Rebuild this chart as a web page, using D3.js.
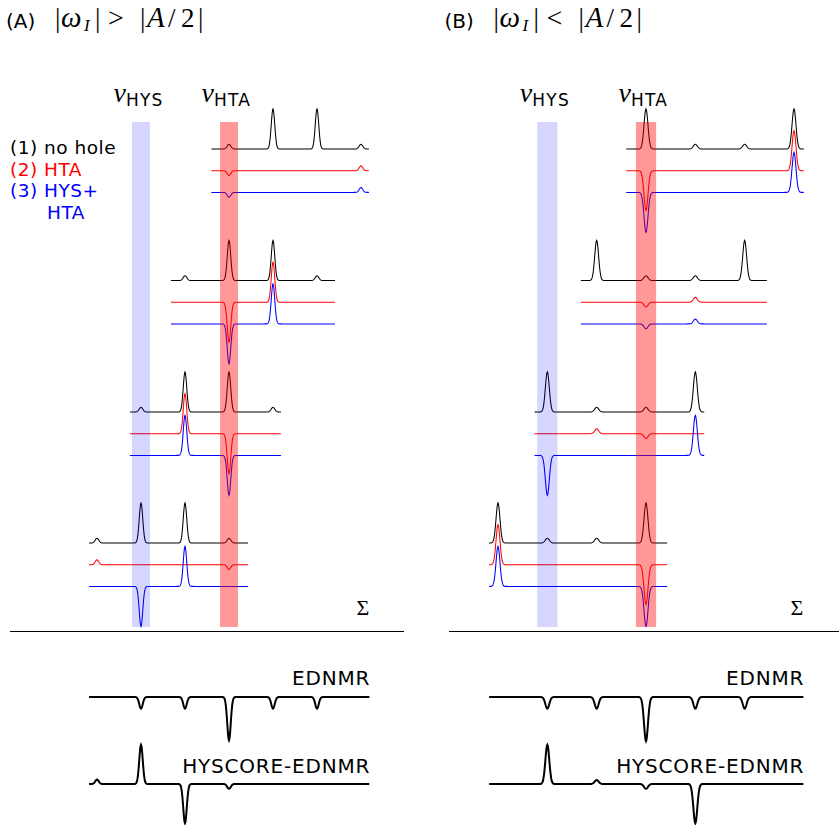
<!DOCTYPE html>
<html lang="en">
<head>
<meta charset="utf-8">
<title>EDNMR / HYSCORE-EDNMR schematic</title>
<style>
body { margin: 0; background: #fff; }
.sans { font-family: "DejaVu Sans", sans-serif; }
.serif { font-family: "Liberation Serif", "DejaVu Serif", serif; }
.trace { fill: none; stroke-width: 1.05; }
.sum { fill: none; stroke: #000; stroke-width: 2; }
</style>
</head>
<body>
<div id="chart"></div>
<script src="https://d3js.org/d3.v7.min.js"></script>
<script>
// peak positions are in "line index" units (0..6), amplitude 1 = full peak
var rowSpanA = [[2.6, 6.18], [1.68, 5.41], [0.75, 4.18], [-0.18, 3.43]];
var rowSpanB = [[2.6, 6.2], [1.68, 5.45], [0.74, 4.18], [-0.18, 3.43]];

// (1) no hole, (2) HTA, (3) HYS+HTA  -- one list of [position, amplitude] per row
var noHoleA = [[[3, .12], [4, 1], [5, 1], [6, .12]],
               [[2, .12], [3, 1], [4, 1], [5, .12]],
               [[1, .12], [2, 1], [3, 1], [4, .12]],
               [[0, .12], [1, 1], [2, 1], [3, .12]]];
var htaA    = [[[3, -.12], [6, .12]],
               [[3, -1], [4, 1]],
               [[2, 1], [3, -1]],
               [[0, .12], [3, -.12]]];
var hysHtaA = [[[3, -.12], [6, .12]],
               [[3, -1], [4, 1]],
               [[2, 1], [3, -1]],
               [[1, -1], [2, 1]]];

var noHoleB = [[[3, 1], [4, .12], [5, .12], [6, 1]],
               [[2, 1], [3, .12], [4, .12], [5, 1]],
               [[1, 1], [2, .12], [3, .12], [4, 1]],
               [[0, 1], [1, .12], [2, .12], [3, 1]]];
var htaB    = [[[3, -1], [6, 1]],
               [[3, -.12], [4, .12]],
               [[2, .12], [3, -.12]],
               [[0, 1], [3, -1]]];
var hysHtaB = [[[3, -1], [6, 1]],
               [[3, -.12], [4, .12]],
               [[1, -1], [4, 1]],
               [[0, 1], [3, -1]]];

// summed spectra
var sumSpan = [-0.18, 6.19];
var ednmrA   = [[1, -.29], [2, -.29], [3, -1.08], [4, -.29], [5, -.29]];
var hyscoreA = [[0, .11], [1, .98], [2, -.98], [3, -.12]];
var ednmrB   = [[1, -.29], [2, -.29], [3, -1.1], [4, -.29], [5, -.29]];
var hyscoreB = [[1, .98], [2, .1], [3, -.12], [4, -.98]];

var hysPos = 1, htaPos = 3, bandHalf = 0.205;
var legend = [['(1) no hole', '#000'], ['(2) HTA', 'red'], ['(3) HYS+', 'blue']];

var SIG = 0.04;
var width = 839, height = 825;
var svg = d3.select('#chart').append('svg')
  .attr('width', width).attr('height', height);

var amp = d3.scaleLinear().domain([0, 1]).range([0, -40]);
var rowBase = [149, 280.5, 412, 543];
var colorOff = [0, 21.7, 43.4];
var colors = ['#000', 'red', 'blue'];

function spectrum(peaks, lo, hi) {
  var f = d3.range(lo, hi, 0.01).concat([hi]);
  return f.map(function(v) {
    return [v, d3.sum(peaks, function(p) {
      return p[1] * Math.exp(-((v - p[0]) * (v - p[0])) / (2 * SIG * SIG));
    })];
  });
}

function drawPanel(p) {
  var x = d3.scaleLinear().domain([0, 6]).range(p.range);
  var g = svg.append('g');
  var sets = [p.noHole, p.hta, p.hysHta];
  // stacked per-row traces
  p.spans.forEach(function(span, r) {
    sets.forEach(function(set, k) {
      var base = rowBase[r] + colorOff[k];
      var line = d3.line()
        .x(function(d) { return x(d[0]); })
        .y(function(d) { return base + amp(d[1]); });
      g.append('path')
        .attr('class', 'trace')
        .attr('stroke', colors[k])
        .attr('d', line(spectrum(set[r], span[0], span[1])));
    });
  });
  // transparent bands drawn over the traces
  [[hysPos, 'blue', 0.16], [htaPos, 'red', 0.4]].forEach(function(b) {
    g.append('rect')
      .attr('x', x(b[0] - bandHalf))
      .attr('width', x(b[0] + bandHalf) - x(b[0] - bandHalf))
      .attr('y', 122).attr('height', 505)
      .attr('fill', b[1]).attr('fill-opacity', b[2]);
  });
  // nu labels
  [[hysPos, 'HYS'], [htaPos, 'HTA']].forEach(function(l) {
    var cx = x(l[0]);
    g.append('text').attr('class', 'serif')
      .attr('x', cx - 27.5).attr('y', 102)
      .style('font-size', '28px').style('font-style', 'italic')
      .text('\u03bd');
    g.append('text').attr('class', 'sans')
      .attr('x', cx - 15).attr('y', 106)
      .style('font-size', '17px').style('letter-spacing', '1.2px')
      .text(l[1]);
  });
  g.append('text').attr('class', 'serif')
    .attr('x', x(sumSpan[1])).attr('y', 615)
    .attr('text-anchor', 'end')
    .style('font-size', '22px')
    .text('\u03a3');
  g.append('line')
    .attr('x1', p.sep[0]).attr('x2', p.sep[1])
    .attr('y1', 631.5).attr('y2', 631.5)
    .attr('stroke', '#000').attr('stroke-width', 1.2);
  // sum spectra
  [[p.ednmr, 697, 'EDNMR', 685], [p.hyscore, 784, 'HYSCORE-EDNMR', 773]].forEach(function(s) {
    var line = d3.line()
      .x(function(d) { return x(d[0]); })
      .y(function(d) { return s[1] + amp(d[1]); });
    g.append('path').attr('class', 'sum')
      .attr('d', line(spectrum(s[0], sumSpan[0], sumSpan[1])));
    g.append('text').attr('class', 'sans')
      .attr('x', x(sumSpan[1]) + 0.8).attr('y', s[3])
      .attr('text-anchor', 'end')
      .style('font-size', '20px').style('letter-spacing', '0.8px')
      .text(s[2]);
  });
  // title
  var t = svg.append('g').attr('transform', 'translate(' + p.titleX + ',0)');
  t.append('text').attr('class', 'sans').attr('x', 6).attr('y', 28)
    .style('font-size', '20px').text('(' + p.key + ')');
  var math = [['|', 55, 27, ''], ['\u03c9', 61, 27, 'italic', 29], ['I', 84, 31, 'italic', 17],
              ['|', 95, 27, ''], [p.rel, 108, 27, '', 28], ['|', 140, 27, ''],
              ['A', 147, 27, 'italic', 29], ['/', 168, 27, ''], ['2', 181, 27, ''], ['|', 198, 27, '']];
  math.forEach(function(m) {
    t.append('text').attr('class', 'serif')
      .attr('x', m[1]).attr('y', m[2])
      .style('font-size', (m[4] || 27) + 'px')
      .style('font-style', m[3] || 'normal')
      .text(m[0]);
  });
}

drawPanel({ key: 'A', rel: '>', range: [97, 361], spans: rowSpanA,
  noHole: noHoleA, hta: htaA, hysHta: hysHtaA,
  ednmr: ednmrA, hyscore: hyscoreA, sep: [10, 404], titleX: 0 });
drawPanel({ key: 'B', rel: '<', range: [498, 794], spans: rowSpanB,
  noHole: noHoleB, hta: htaB, hysHta: hysHtaB,
  ednmr: ednmrB, hyscore: hyscoreB, sep: [449, 839], titleX: 438.5 });

// legend (panel A only)
var leg = svg.append('g').attr('class', 'sans').style('font-size', '18.5px')
  .style('letter-spacing', '0.5px');
legend.forEach(function(l, i) {
  leg.append('text').attr('x', 10).attr('y', 154 + i * 21.6)
    .attr('fill', l[1]).text(l[0]);
});
leg.append('text').attr('x', 47).attr('y', 219).attr('fill', 'blue').text('HTA');
</script>
</body>
</html>
